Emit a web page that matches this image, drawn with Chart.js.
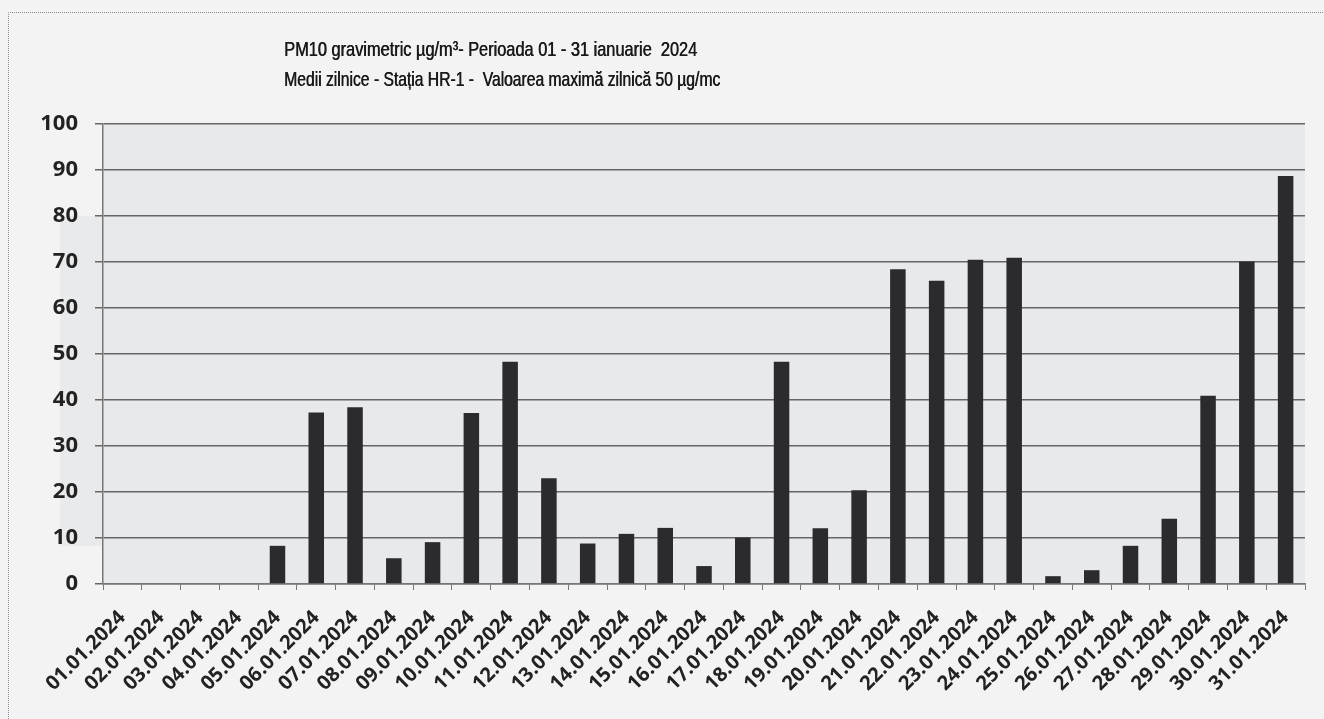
<!DOCTYPE html>
<html>
<head>
<meta charset="utf-8">
<title>PM10 gravimetric - HR-1 - ianuarie 2024</title>
<script src="https://cdn.jsdelivr.net/npm/chart.js@4/dist/chart.umd.min.js"></script>
<style>
    body { margin: 0; background: #f3f3f3; }
    #chartBox { width: 1324px; height: 719px; }
</style>
</head>
<body>
<div id="chartBox"><canvas id="pmChart" width="1324" height="719"></canvas></div>
<script>
// Daily dates for January 2024
const days = [
    '01.01.2024', '02.01.2024', '03.01.2024', '04.01.2024', '05.01.2024', '06.01.2024',
    '07.01.2024', '08.01.2024', '09.01.2024', '10.01.2024', '11.01.2024', '12.01.2024',
    '13.01.2024', '14.01.2024', '15.01.2024', '16.01.2024', '17.01.2024', '18.01.2024',
    '19.01.2024', '20.01.2024', '21.01.2024', '22.01.2024', '23.01.2024', '24.01.2024',
    '25.01.2024', '26.01.2024', '27.01.2024', '28.01.2024', '29.01.2024', '30.01.2024',
    '31.01.2024'
];

const pm10Values = [
    null, null, null, null, 8.3, 37.3,
    38.4, 5.6, 9.1, 37.2, 48.3, 23.0,
    8.8, 10.9, 12.2, 3.9, 10.1, 48.3,
    12.1, 20.4, 68.4, 65.9, 70.5, 70.9,
    1.7, 3.0, 8.3, 14.2, 40.9, 70.1,
    88.7
];

const titleLines = [
    'PM10 gravimetric µg/m³- Perioada 01 - 31 ianuarie  2024',
    'Medii zilnice - Stația HR-1 -  Valoarea maximă zilnică 50 µg/mc'
];

// Paper background, scan frame and plot area fill
const backgroundPlugin = {
    id: 'paperBackground',
    beforeDraw(chart) {
        const { ctx, chartArea } = chart;
        ctx.save();
        ctx.fillStyle = '#f3f3f3';
        ctx.fillRect(0, 0, chart.width, chart.height);

        // slightly darker band left by the scan
        ctx.fillStyle = '#e9eaeb';
        ctx.fillRect(60, 216, chartArea.right - 60, 330);

        ctx.fillStyle = '#e8e9eb';
        ctx.fillRect(chartArea.left, chartArea.top, chartArea.right - chartArea.left, chartArea.bottom - chartArea.top);

        // dotted frame
        ctx.strokeStyle = '#8a8a8a';
        ctx.lineWidth = 1;
        ctx.setLineDash([1, 1]);
        ctx.beginPath();
        ctx.moveTo(8.5, chart.height);
        ctx.lineTo(8.5, 12.5);
        ctx.lineTo(chart.width, 12.5);
        ctx.stroke();
        ctx.restore();
    }
};

// Condensed two-line title, placed like the original
const titlePlugin = {
    id: 'condensedTitle',
    afterDraw(chart) {
        const ctx = chart.ctx;
        ctx.save();
        ctx.fillStyle = '#1a1a1a';
        ctx.font = '21px "Liberation Sans", Arial, sans-serif';
        ctx.textAlign = 'left';
        ctx.textBaseline = 'alphabetic';
        const leftX = 284;
        const baselines = [56, 86];
        const widths = [413, 436]; // line widths in the scan
        titleLines.forEach((line, i) => {
            const squeeze = widths[i] / ctx.measureText(line).width;
            ctx.save();
            ctx.translate(leftX, baselines[i]);
            ctx.scale(squeeze, 1);
            ctx.fillText(line, 0, 0);
            // second pass to thicken the strokes a little
            ctx.fillText(line, 0.7, 0);
            ctx.restore();
        });
        ctx.restore();
    }
};

const ctx = document.getElementById('pmChart').getContext('2d');
new Chart(ctx, {
    type: 'bar',
    data: {
        labels: days,
        datasets: [{
            label: 'PM10',
            data: pm10Values,
            backgroundColor: '#2a2a2f',
            barPercentage: 0.4,
            categoryPercentage: 1.0
        }]
    },
    options: {
        responsive: false,
        animation: false,
        devicePixelRatio: 1,
        layout: {
            padding: { top: 124, right: 19, bottom: 0, left: 0 }
        },
        plugins: {
            legend: { display: false },
            tooltip: { enabled: false }
        },
        scales: {
            x: {
                grid: {
                    display: true,
                    drawOnChartArea: false,
                    drawTicks: true,
                    tickLength: 6,
                    color: '#777'
                },
                border: { display: true, color: '#777', width: 1.5 },
                ticks: {
                    autoSkip: false,
                    minRotation: 45,
                    maxRotation: 45,
                    padding: 16,
                    color: '#222',
                    font: { family: '"Open Sans", sans-serif', size: 20, weight: 'bold' }
                },
                afterFit(scale) {
                    scale.height = 135;
                }
            },
            y: {
                min: 0,
                max: 100,
                ticks: {
                    stepSize: 10,
                    padding: 17,
                    color: '#222',
                    font: { family: '"Open Sans", sans-serif', size: 22, weight: 'bold' }
                },
                grid: {
                    color: '#666',
                    lineWidth: 1.5,
                    tickLength: 8
                },
                border: { display: true, color: '#777', width: 1.5 },
                afterFit(scale) {
                    scale.width = 103;
                }
            }
        }
    },
    plugins: [backgroundPlugin, titlePlugin]
});
</script>
</body>
</html>
